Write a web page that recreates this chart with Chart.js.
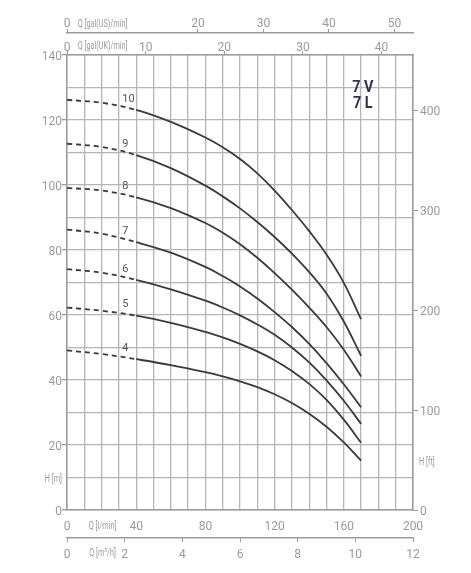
<!DOCTYPE html>
<html>
<head>
<meta charset="utf-8">
<script src="https://cdn.jsdelivr.net/npm/chart.js@4.4.1/dist/chart.umd.min.js"></script>
<style>
  html, body { margin: 0; padding: 0; background: #fff; }
  #wrap { width: 471px; height: 573px; }
</style>
</head>
<body>
<div id="wrap"><canvas id="pumpChart"></canvas></div>
<script>
// flow points, l/min
const flowLpm = [0, 20, 40, 60, 80, 90, 100, 110, 120, 130, 140, 150, 160, 170];

// head per model (number of stages), m
const head4 = [49.1, 48.0, 46.4, 44.6, 42.4, 41.1, 39.6, 37.8, 35.6, 32.9, 29.6, 25.6, 20.8, 15.2];
const head5 = [62.3, 61.3, 59.8, 57.6, 54.8, 53.1, 51.1, 48.8, 46.1, 42.8, 38.8, 33.9, 27.8, 20.7];
const head6 = [74.1, 73.0, 70.8, 67.9, 64.4, 62.3, 59.9, 57.1, 53.9, 50.0, 45.4, 39.9, 33.6, 26.5];
const head7 = [86.3, 85.0, 82.4, 79.2, 74.8, 72.0, 68.8, 65.1, 60.9, 56.3, 51.1, 45.2, 38.7, 31.6];
const head8 = [99.1, 98.3, 96.2, 92.9, 88.3, 85.3, 81.8, 77.6, 72.9, 67.8, 62.3, 56.3, 49.3, 41.1];
const head9 = [112.7, 111.7, 109.2, 105.2, 99.8, 96.5, 92.8, 88.6, 84.0, 78.9, 73.2, 66.6, 58.0, 47.4];
const head10 = [126.2, 125.3, 123.1, 119.4, 114.6, 111.6, 108.0, 103.6, 98.3, 92.3, 85.8, 78.6, 69.9, 58.7];

const stageNames = ["4", "5", "6", "7", "8", "9", "10"];
const stageHeads = [head4, head5, head6, head7, head8, head9, head10];

// below this flow the curves are dashed
const dashedUpTo = 40;
const stageLabelFlow = 32;
const modelLines = ["7 V", "7 L"];

// tick labels
const headTicksM = [0, 10, 20, 30, 40, 50, 60, 70, 80, 90, 100, 110, 120, 130, 140];
const headTicksFt = [0, 100, 200, 300, 400];
const flowTicksLpm = [0, 10, 20, 30, 40, 50, 60, 70, 80, 90, 100, 110, 120, 130, 140, 150, 160, 170, 180, 190, 200];
const flowTicksM3h = [0, 2, 4, 6, 8, 10, 12];
const flowTicksUK = [0, 10, 20, 30, 40];
const flowTicksUS = [0, 20, 30, 40, 50];

// the ft scale as printed (not an exact conversion of the m scale)
const headMaxFt = 455;

// unit captions sit between the first ticks
const unitFlowLpm = 20;
const unitHeadM = 10;
const unitHeadFt = 50;

const gray = "#9b9b9b";
const gridGray = "#b5b5b5";
const numFont = { family: "Roboto, 'Open Sans', sans-serif", size: 12 };

function fixTicks(values) {
    return function (scale) {
        scale.ticks = values.map(v => ({ value: v }));
    };
}

function axisTicks(padding, callback, labelOffset) {
    const t = {
        autoSkip: false,
        maxRotation: 0,
        padding: padding,
        labelOffset: labelOffset || 0,
        color: gray,
        font: numFont
    };
    if (callback) t.callback = callback;
    return t;
}

function plainAxis(extra) {
    return Object.assign({
        type: "linear",
        border: { display: true, color: gray, width: 1.5 }
    }, extra);
}

const datasets = stageNames.map((name, i) => ({
    label: name,
    data: flowLpm.map((q, k) => ({ x: q, y: stageHeads[i][k] })),
    borderColor: "#3a3a3a",
    borderWidth: 1.8,
    pointRadius: 0,
    tension: 0.4,
    segment: {
        borderDash: ctx => ctx.p1.parsed.x <= dashedUpTo ? [5, 4] : undefined
    }
}));

function narrowText(ctx, text, x, y, squeeze) {
    ctx.save();
    ctx.translate(x, y);
    ctx.scale(squeeze, 1);
    ctx.fillText(text, 0, 0);
    ctx.restore();
}

const chartTexts = {
    id: "chartTexts",
    afterDraw(chart) {
        const ctx = chart.ctx;
        const s = chart.scales;
        const x = s.x;
        const y = s.y;
        ctx.save();

        // unit captions
        ctx.fillStyle = gray;
        ctx.font = "11px Roboto, sans-serif";
        ctx.textBaseline = "middle";
        ctx.textAlign = "center";
        const ux = x.getPixelForValue(unitFlowLpm) + 1;
        narrowText(ctx, "Q [gal(US)/min]", ux, s.xus.bottom - 9, 0.66);
        narrowText(ctx, "Q [gal(UK)/min]", ux, s.xuk.bottom - 9, 0.66);
        narrowText(ctx, "Q [l/min]", ux, x.top + 16, 0.66);
        narrowText(ctx, "Q [m³/h]", ux, s.xm3h.top + 15, 0.66);
        ctx.textAlign = "right";
        narrowText(ctx, "H [m]", y.right - 5, y.getPixelForValue(unitHeadM) + 2, 0.66);
        ctx.textAlign = "left";
        narrowText(ctx, "H [ft]", s.yft.left + 6, s.yft.getPixelForValue(unitHeadFt) + 2, 0.66);

        // stage numbers over the curves
        ctx.fillStyle = "#555";
        ctx.font = "11px Roboto, sans-serif";
        chart.data.datasets.forEach(ds => {
            const p = ds.data.find(d => d.x === dashedUpTo);
            ctx.fillText(ds.label, x.getPixelForValue(stageLabelFlow), y.getPixelForValue(p.y) - 11);
        });

        // model name
        ctx.fillStyle = "#2e3350";
        ctx.font = "bold 16px Roboto, sans-serif";
        ctx.textAlign = "center";
        narrowText(ctx, modelLines[0], x.getPixelForValue(171), y.getPixelForValue(130.0), 0.9);
        narrowText(ctx, modelLines[1], x.getPixelForValue(171), y.getPixelForValue(124.9), 0.9);
        ctx.restore();
    }
};

new Chart(document.getElementById("pumpChart"), {

    type: "line",

    data: { datasets: datasets },

    plugins: [chartTexts],

    options: {
        responsive: true,
        maintainAspectRatio: false,
        animation: false,
        layout: { padding: 0 },

        plugins: {
            legend: { display: false },
            tooltip: { enabled: false }
        },

        scales: {

            x: plainAxis({
                position: "bottom",
                weight: 0,
                min: 0,
                max: 200,
                afterBuildTicks: fixTicks(flowTicksLpm),
                afterFit: sc => { sc.height = 28; },
                grid: { color: gridGray, lineWidth: 1.3, drawTicks: false },
                ticks: axisTicks(10, v => v % 40 === 0 ? String(v) : "")
            }),

            xm3h: plainAxis({
                position: "bottom",
                weight: 1,
                min: 0,
                max: 200 * 0.06,
                afterBuildTicks: fixTicks(flowTicksM3h),
                afterFit: sc => { sc.height = 35; },
                grid: { drawOnChartArea: false, tickLength: 4, tickColor: gray },
                ticks: axisTicks(6)
            }),

            xuk: plainAxis({
                position: "top",
                weight: 0,
                min: 0,
                max: 200 / 4.54609,
                afterBuildTicks: fixTicks(flowTicksUK),
                afterFit: sc => { sc.height = 22; },
                grid: { drawOnChartArea: false, tickLength: 4, tickColor: gray },
                ticks: axisTicks(-4)
            }),

            xus: plainAxis({
                position: "top",
                weight: 1,
                min: 0,
                max: 200 / 3.785411784,
                afterBuildTicks: fixTicks(flowTicksUS),
                afterFit: sc => { sc.height = 33; },
                grid: { drawOnChartArea: false, tickLength: 4, tickColor: gray },
                ticks: axisTicks(-2)
            }),

            y: plainAxis({
                position: "left",
                min: 0,
                max: 140,
                afterBuildTicks: fixTicks(headTicksM),
                afterFit: sc => { sc.width = 67; },
                grid: {
                    color: gridGray,
                    lineWidth: 1.3,
                    tickLength: 5,
                    tickColor: ctx => ctx.tick && ctx.tick.value % 20 === 0 ? gray : "rgba(0,0,0,0)"
                },
                ticks: axisTicks(0, v => v % 20 === 0 ? String(v) : "", 2)
            }),

            yft: plainAxis({
                position: "right",
                min: 0,
                max: headMaxFt,
                afterBuildTicks: fixTicks(headTicksFt),
                afterFit: sc => { sc.width = 58; },
                grid: { drawOnChartArea: false, tickLength: 5, tickColor: gray },
                ticks: axisTicks(2, null, 2)
            })
        }
    }
});
</script>
</body>
</html>
